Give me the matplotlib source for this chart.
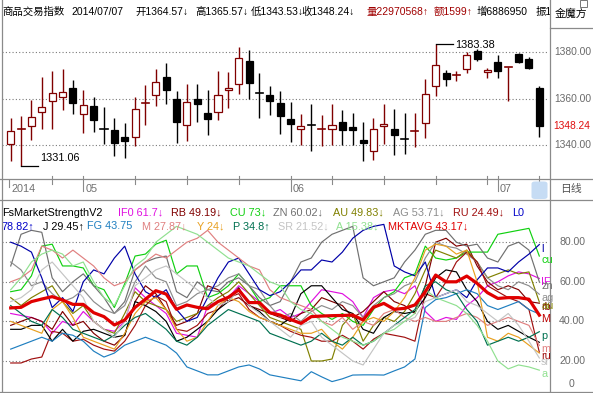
import matplotlib
matplotlib.use('Agg')
import matplotlib.pyplot as plt
from matplotlib.patches import Rectangle, FancyBboxPatch
from matplotlib.lines import Line2D

plt.rcParams['font.family'] = ['Liberation Sans', 'Noto Sans CJK SC', 'DejaVu Sans']

# ---------------- data ----------------
opens  = [1340.6, 1346.5, 1348.1, 1354.3, 1359.0, 1360.7, 1364.7, 1353.4, 1357.0, 1347.2,
          1346.4, 1343.7, 1343.6, 1358.2, 1361.6, 1369.4, 1360.0, 1348.7, 1359.9, 1354.0,
          1354.3, 1363.6, 1366.3, 1376.3, 1362.5, 1361.7, 1358.3, 1351.4, 1347.0, 1349.0,
          1346.9, 1347.0, 1350.1, 1348.0, 1342.4, 1337.6, 1348.1, 1347.1, 1342.8, 1345.8,
          1349.4, 1365.3, 1371.1, 1370.2, 1372.7, 1380.7, 1371.4, 1375.9, 1373.3, 1379.1,
          1377.1, 1364.57]
highs  = [1351.7, 1352.7, 1359.6, 1369.4, 1372.0, 1372.9, 1367.9, 1363.9, 1360.9, 1356.6,
          1351.7, 1349.6, 1360.9, 1366.0, 1372.9, 1375.4, 1363.3, 1366.4, 1366.4, 1363.9,
          1372.0, 1371.6, 1382.3, 1381.0, 1370.9, 1365.7, 1363.4, 1358.7, 1353.4, 1357.9,
          1353.1, 1357.9, 1355.3, 1354.0, 1350.1, 1351.7, 1357.9, 1355.7, 1353.9, 1354.0,
          1368.4, 1383.38, 1372.4, 1372.1, 1380.0, 1381.3, 1373.4, 1378.9, 1373.7, 1379.9,
          1377.9, 1365.57]
lows   = [1333.1, 1331.06, 1342.1, 1347.1, 1347.1, 1355.0, 1353.3, 1345.1, 1345.6, 1340.7,
          1335.3, 1334.7, 1339.6, 1348.6, 1356.7, 1357.9, 1341.1, 1341.7, 1349.9, 1344.3,
          1350.9, 1355.9, 1361.9, 1359.7, 1351.6, 1353.1, 1344.9, 1341.3, 1340.3, 1337.4,
          1339.6, 1340.0, 1340.0, 1340.0, 1333.1, 1333.6, 1340.7, 1335.7, 1336.1, 1339.3,
          1343.0, 1361.0, 1365.4, 1367.7, 1371.0, 1376.3, 1369.1, 1369.1, 1358.9, 1375.3,
          1372.7, 1343.53]
closes = [1346.3, 1346.9, 1352.1, 1356.4, 1362.6, 1363.0, 1358.4, 1357.3, 1350.7, 1347.0,
          1340.9, 1341.7, 1355.7, 1358.4, 1367.1, 1363.6, 1349.9, 1358.7, 1357.6, 1351.1,
          1361.6, 1364.6, 1377.4, 1366.6, 1362.3, 1359.0, 1352.4, 1349.0, 1348.3, 1348.8,
          1347.1, 1348.7, 1346.6, 1346.4, 1340.9, 1347.1, 1349.1, 1344.3, 1342.6, 1346.0,
          1362.0, 1374.6, 1368.7, 1370.4, 1378.9, 1377.0, 1372.4, 1372.1, 1373.5, 1376.0,
          1373.4, 1348.24]

price_ticks = [1380, 1360, 1340]
strength_ticks = [80, 60, 40, 20]

IF0 = [44, 43, 42, 40, 34, 40, 38, 45, 40, 36, 35, 40, 57, 52, 48, 44, 34, 33, 32, 48,
       50, 52, 58, 54, 50, 44, 46, 42, 44, 50, 56, 55, 54, 50, 42, 52, 55, 56, 54, 58,
       45, 40, 42, 41, 48, 52, 58, 60, 63, 65, 64, 61.7]
RB = [38, 40, 42, 40, 36, 45, 38, 40, 34, 30, 28, 33, 50, 58, 54, 46, 38, 40, 44, 58,
      56, 50, 52, 48, 46, 44, 42, 40, 44, 46, 52, 50, 48, 42, 45, 50, 55, 50, 48, 44,
      58, 80, 82, 78, 79, 68, 60, 56, 58, 56, 50, 49.19]
CU = [55, 56, 63, 78, 79, 68, 68, 67, 58, 56, 47, 59, 73, 74, 79, 81, 64, 68, 68, 52,
      54, 58, 64, 58, 50, 52, 58, 58, 58, 48, 44, 41, 44, 40, 38, 46, 52, 55, 62, 64,
      78, 72, 71, 72, 75, 75, 75, 84, 85, 86, 87, 73]
ZN = [68, 84, 86, 85, 62, 55, 60, 64, 58, 52, 44, 50, 66, 70, 72, 73, 55, 52, 60, 56,
      55, 60, 62, 58, 52, 48, 50, 60, 70, 72, 80, 84, 86, 88, 62, 58, 60, 62, 70, 76,
      84, 86, 86, 80, 78, 79, 72, 70, 78, 80, 76, 60.02]
AU = [52, 48, 52, 55, 58, 50, 44, 48, 40, 36, 34, 44, 55, 50, 48, 46, 40, 42, 44, 48,
      52, 55, 60, 54, 48, 42, 40, 38, 36, 20, 20, 21, 38, 44, 30, 38, 42, 40, 45, 54,
      66, 76, 74, 72, 76, 70, 62, 64, 66, 64, 65, 49.83]
AG = [70, 66, 58, 60, 54, 50, 52, 56, 50, 46, 44, 48, 60, 68, 62, 60, 48, 50, 54, 56,
      58, 62, 64, 58, 56, 48, 42, 44, 40, 45, 48, 46, 50, 48, 42, 48, 52, 54, 58, 60,
      72, 80, 78, 77, 74, 70, 62, 58, 56, 60, 58, 53.71]
RU = [19, 19, 21, 22, 35, 34, 30, 31, 28, 26, 25, 30, 38, 48, 53, 50, 36, 35, 38, 44,
      46, 52, 54, 46, 42, 40, 38, 35, 33, 32, 30, 30, 33, 30, 26, 31, 34, 33, 32, 30,
      54, 52, 60, 70, 75, 70, 58, 55, 52, 50, 46, 24.49]
L0 = [80, 78, 75, 62, 47, 52, 45, 60, 66, 64, 72, 78, 64, 55, 52, 56, 46, 40, 42, 52,
      62, 70, 72, 64, 56, 53, 55, 60, 66, 66, 71, 70, 75, 82, 86, 88, 89, 68, 65, 63,
      70, 52, 54, 56, 52, 61, 67, 67, 65, 70, 74, 78.82]
J = [36, 36, 38, 38, 30, 36, 30, 35, 36, 34, 32, 33, 50, 48, 45, 40, 30, 32, 36, 40,
     46, 50, 57, 48, 45, 40, 38, 42, 54, 58, 58, 52, 46, 44, 36, 34, 42, 45, 44, 45,
     52, 62, 66, 65, 56, 50, 40, 36, 38, 35, 32, 29.45]
FG = [26, 28, 30, 32, 30, 34, 33, 30, 25, 22, 24, 28, 30, 32, 30, 28, 24, 17, 15, 13,
      13, 15, 17, 18, 16, 13, 12, 11, 10, 14.6, 12, 9.6, 11, 12.9, 13, 13, 12.9, 15, 17, 21,
      47, 51, 52, 54, 56, 54, 48, 46, 48, 50, 46, 43.75]
M = [60, 62, 66, 78, 76, 72, 76, 72, 68, 62, 58, 60, 66, 70, 74, 72, 76, 80, 82, 86,
     80, 76, 72, 68, 66, 56, 52, 50, 48, 46, 40, 38, 42, 36, 40, 38, 44, 46, 42, 40,
     42, 40, 40, 42, 44, 42, 38, 40, 42, 40, 38, 27.87]
Y = [40, 38, 36, 34, 46, 50, 42, 32, 30, 28, 26, 34, 44, 50, 52, 46, 36, 30, 32, 40,
     48, 52, 50, 45, 42, 40, 38, 36, 34, 34, 36, 30, 26, 32, 40, 42, 40, 45, 52, 62,
     76, 79, 78, 74, 76, 60, 32, 30, 34, 32, 28, 24]
P = [48, 44, 40, 38, 46, 42, 36, 34, 32, 30, 33, 38, 42, 44, 40, 36, 30, 28, 32, 38,
     42, 46, 44, 42, 40, 34, 32, 30, 28, 30, 34, 30, 28, 32, 28, 30, 34, 38, 42, 46,
     58, 60, 56, 54, 46, 40, 28, 30, 32, 30, 32, 34.8]
SR = [50, 52, 56, 66, 70, 64, 58, 52, 40, 36, 32, 40, 58, 62, 66, 68, 64, 60, 56, 52,
      48, 50, 56, 48, 44, 40, 36, 32, 38, 40, 32, 28, 24, 20, 18, 26, 34, 38, 40, 42,
      50, 52, 54, 56, 50, 48, 44, 40, 44, 38, 30, 21.52]
A = [56, 62, 70, 74, 76, 74, 68, 70, 60, 52, 48, 58, 68, 72, 80, 84, 88, 86, 84, 80,
     76, 72, 70, 68, 64, 60, 58, 50, 46, 44, 40, 36, 32, 30, 28, 30, 34, 36, 40, 44,
     56, 52, 50, 48, 44, 38, 30, 20, 16, 18, 17, 15.38]
MKTAVG = [46.8, 47.1, 50.0, 51.3, 52.5, 50.8, 48.6, 48.6, 44.4, 42.4, 38.2, 40.7, 47.1,
          51.2, 55.5, 53.8, 46.1, 48.3, 47.1, 46.4, 50.0, 52.2, 55.9, 49.5, 49.5, 44.4,
          43.2, 41.0, 39.0, 42.4, 42.7, 42.9, 43.0, 43.2, 40.7, 47.1, 49.1, 46.1, 46.6,
          48.3, 55.0, 63.4, 60.0, 60.0, 62.9, 59.2, 54.5, 51.6, 52.0, 52.0, 51.2, 43.17]

series_names = ['IF0', 'RB', 'CU', 'ZN', 'AU', 'AG', 'RU', 'L0', 'J', 'FG', 'M', 'Y', 'P', 'SR', 'A']
series_vals = [IF0, RB, CU, ZN, AU, AG, RU, L0, J, FG, M, Y, P, SR, A]
series_tags = ['IF', 'rb', 'cu', 'zn', 'au', 'ag', 'ru', 'l', '', '', 'm', '', 'p', 'sr', 'a']
series_colors = ['#E010E0', '#800000', '#10D010', '#707070', '#808000', '#8C8C8C', '#A01010',
                 '#0000A8', '#000000', '#1F7FC0', '#E08080', '#E8A020', '#007050', '#C4C4C4', '#90E090']
series_arrows = ['↓', '↓', '↓', '↓', '↓', '↓', '↓', '↑', '↑', '', '↓', '↓', '↑', '↓', '↓']

month_ticks = [7, 27, 47]
month_labels = ['05', '06', '07']
week_ticks = [4, 12, 17, 22, 31, 36, 41, 46, 51]

# ---------------- layout helpers ----------------
W, H = 593, 393
fig = plt.figure(figsize=(W / 100, H / 100), dpi=100)
fig.patch.set_facecolor('white')

def fx(x):
    return x / W

def fy(y):
    return 1 - y / H

def line(x0, y0, x1, y1, color='#8a8a8a', lw=0.9):
    fig.add_artist(Line2D([fx(x0), fx(x1)], [fy(y0), fy(y1)], color=color, lw=lw,
                          transform=fig.transFigure, zorder=20))

def ftext(x, y, s, color='black', size=7.8, ha='left', va='center', **kw):
    return fig.text(fx(x), fy(y), s, color=color, fontsize=size, ha=ha, va=va, **kw)

X0, X1 = 2, 549
n = len(closes)
step = 10.365
xl = ((X0 - 10.7) / step, (X1 - 10.7) / step)

# ---------------- price panel ----------------
PT, PB = 0, 179
axp = fig.add_axes([fx(X0), fy(PB), fx(X1) - fx(X0), (PB - PT) / H])
pscale = 2.325
axp.set_xlim(*xl)
axp.set_ylim(1380 - (PB - 52.3) / pscale, 1380 + (52.3 - PT) / pscale)
axp.axis('off')
for v in price_ticks:
    axp.axhline(v, color='#7a7a7a', lw=0.8, ls=(0, (1, 2)), zorder=0)

up_col = '#800000'
bw = 0.68
for i in range(n):
    o, h, l, c = opens[i], highs[i], lows[i], closes[i]
    up = c >= o
    col = up_col if up else 'black'
    axp.plot([i, i], [l, h], color=col, lw=1.0, zorder=2, solid_capstyle='butt')
    lo, hi = min(o, c), max(o, c)
    if hi - lo < 0.6:
        axp.plot([i - bw / 2, i + bw / 2], [c, c], color=col, lw=1.2, zorder=3)
    else:
        axp.add_patch(Rectangle((i - bw / 2, lo), bw, hi - lo,
                                facecolor='white' if up else 'black',
                                edgecolor=col, lw=0.9, zorder=3))

# low / high annotations
ilo = lows.index(min(lows))
ihi = highs.index(max(highs))
axp.plot([ilo, ilo + 1.6], [lows[ilo], lows[ilo]], color='black', lw=0.9)
axp.text(ilo + 1.85, lows[ilo] + 3.6, f'{lows[ilo]:.2f}', fontsize=7.8, va='center', ha='left')
axp.plot([ihi, ihi + 1.7], [highs[ihi], highs[ihi]], color='black', lw=0.9)
axp.text(ihi + 1.85, highs[ihi] - 0.3, f'{highs[ihi]:.2f}', fontsize=7.8, va='center', ha='left')

# bottom weekly ticks of the price panel
for t in week_ticks + month_ticks:
    axp.plot([t, t], [axp.get_ylim()[0], axp.get_ylim()[0] + 1.2], color='#8a8a8a', lw=0.8)

# right price labels
def py(v):
    return 52.3 + (1380 - v) * pscale
for v in price_ticks:
    ftext(554.5, py(v), f'{v:.2f}', color='#6a6a6a', size=7.4)
ftext(553, py(closes[-1]), f'{closes[-1]:.2f}', color='#E01010', size=7.4)

# header
hdr = [(2.5, '商品交易指数', 'black'), (71.7, '2014/07/07', 'black'),
       (135, f'开{opens[-1]:.2f}↓', 'black'), (195, f'高{highs[-1]:.2f}↓', 'black'),
       (250.7, f'低{lows[-1]:.2f}↓', 'black'), (301, f'收{closes[-1]:.2f}↓', 'black'),
       (366.7, '量22970568↑', '#A00000'), (434, '额1599↑', '#A00000'),
       (476.7, '增6886950', 'black'), (536, '振1', 'black')]
for x, s, c in hdr:
    ftext(x, 11.7, s, color=c, size=7.5)
fig.add_artist(Rectangle((fx(549.5), fy(28)), 1 - fx(549.5), 28 / H, transform=fig.transFigure,
                         facecolor='white', edgecolor='none', zorder=10))
ftext(571, 13.5, '金魔方', size=7.8, ha='center', zorder=21)
fig.add_artist(Rectangle((fx(580), fy(7)), 7 / W, 7 / H, transform=fig.transFigure,
                         facecolor='none', edgecolor='#777777', lw=0.7, zorder=22))

# ---------------- date strip ----------------
DT, DB = 179, 199.5
axd = fig.add_axes([fx(X0), fy(DB), fx(X1) - fx(X0), (DB - DT) / H])
axd.set_xlim(*xl)
axd.set_ylim(DB, DT)
axd.axis('off')
for t in week_ticks:
    axd.plot([t, t], [DT, DT + 4.5], color='#8a8a8a', lw=0.8)
axd.plot([-0.2, -0.2], [DT, DT + 8], color='#8a8a8a', lw=0.8)
axd.text(0.1, 189, '2014', color='#707070', fontsize=7.8, va='center', ha='left')
for t, lab in zip(month_ticks, month_labels):
    axd.plot([t, t], [DT, DT + 12], color='#8a8a8a', lw=0.8)
    axd.text(t + 0.2, 189, lab, color='#707070', fontsize=7.8, va='center', ha='left')
fig.add_artist(FancyBboxPatch((fx(531.5), fy(199)), 16 / W, 17.5 / H,
                              boxstyle='round,pad=0,rounding_size=0.006',
                              transform=fig.transFigure, facecolor='#C6DCF4', edgecolor='none', zorder=5))
ftext(571, 189, '日线', color='#555555', size=7.8, ha='center')

# ---------------- strength panel ----------------
BT, BB = 199.5, 391.7
axb = fig.add_axes([fx(X0), fy(BB), fx(X1) - fx(X0), (BB - BT) / H])
sscale = 1.98
def sy(v):
    return 400.6 - sscale * v
axb.set_xlim(*xl)
axb.set_ylim((400.6 - BB) / sscale, (400.6 - BT) / sscale)
axb.axis('off')
for v in strength_ticks:
    axb.axhline(v, color='#7a7a7a', lw=0.8, ls=(0, (1, 2)), zorder=0)
xs = list(range(n))
for vals, col in zip(series_vals, series_colors):
    axb.plot(xs, vals, color=col, lw=0.85, zorder=2)
axb.plot(xs, MKTAVG, color='#E00000', lw=2.3, zorder=4)

for v in strength_ticks:
    ftext(559, sy(v), f'{v:.2f}', color='#6a6a6a', size=7.6)
ftext(569, 384, '0', color='#6a6a6a', size=7.6)

# end tags (only the ones that are visible in the chart)
for vals, tag, col in zip(series_vals, series_tags, series_colors):
    if tag:
        ftext(541, sy(vals[-1]) - 1, tag, color=col, size=7.8, va='top', zorder=21)
ftext(541, sy(MKTAVG[-1]) - 1, 'M', color='#C00000', size=7.8, va='top', zorder=21)

# legend texts
ftext(2, 212.8, 'FsMarketStrengthV2')
row1_x = [118, 171.3, 230, 273, 333, 393.3, 453]
for k, x in enumerate(row1_x):
    v = series_vals[k][-1]
    ftext(x, 212.8, f'{series_names[k]} {v:g}{series_arrows[k]}', color=series_colors[k])
ftext(512, 212.8, 'L0', color='#0000C8')
ftext(2, 226, f'{L0[-1]:g}{series_arrows[7]}', color='#0000C8')
row2_x = [43.3, 87.3, 141.7, 196.7, 233.3, 278.3, 335.7]
for k, x in zip(range(8, 15), row2_x):
    v = series_vals[k][-1]
    ftext(x, 226, f'{series_names[k]} {v:g}{series_arrows[k]}', color=series_colors[k])
ftext(387.7, 226, f'MKTAVG {MKTAVG[-1]:g}↓', color='#E00000')

# ---------------- frame lines ----------------
line(1.5, 0, 1.5, H)
line(549.5, 0, 549.5, H)
line(549.5, 28, W, 28)
line(0, PB, W, PB)
line(0, BT, W, BT)
line(0, BB, W, BB)

fig.savefig('out.png', dpi=100, facecolor='white')
